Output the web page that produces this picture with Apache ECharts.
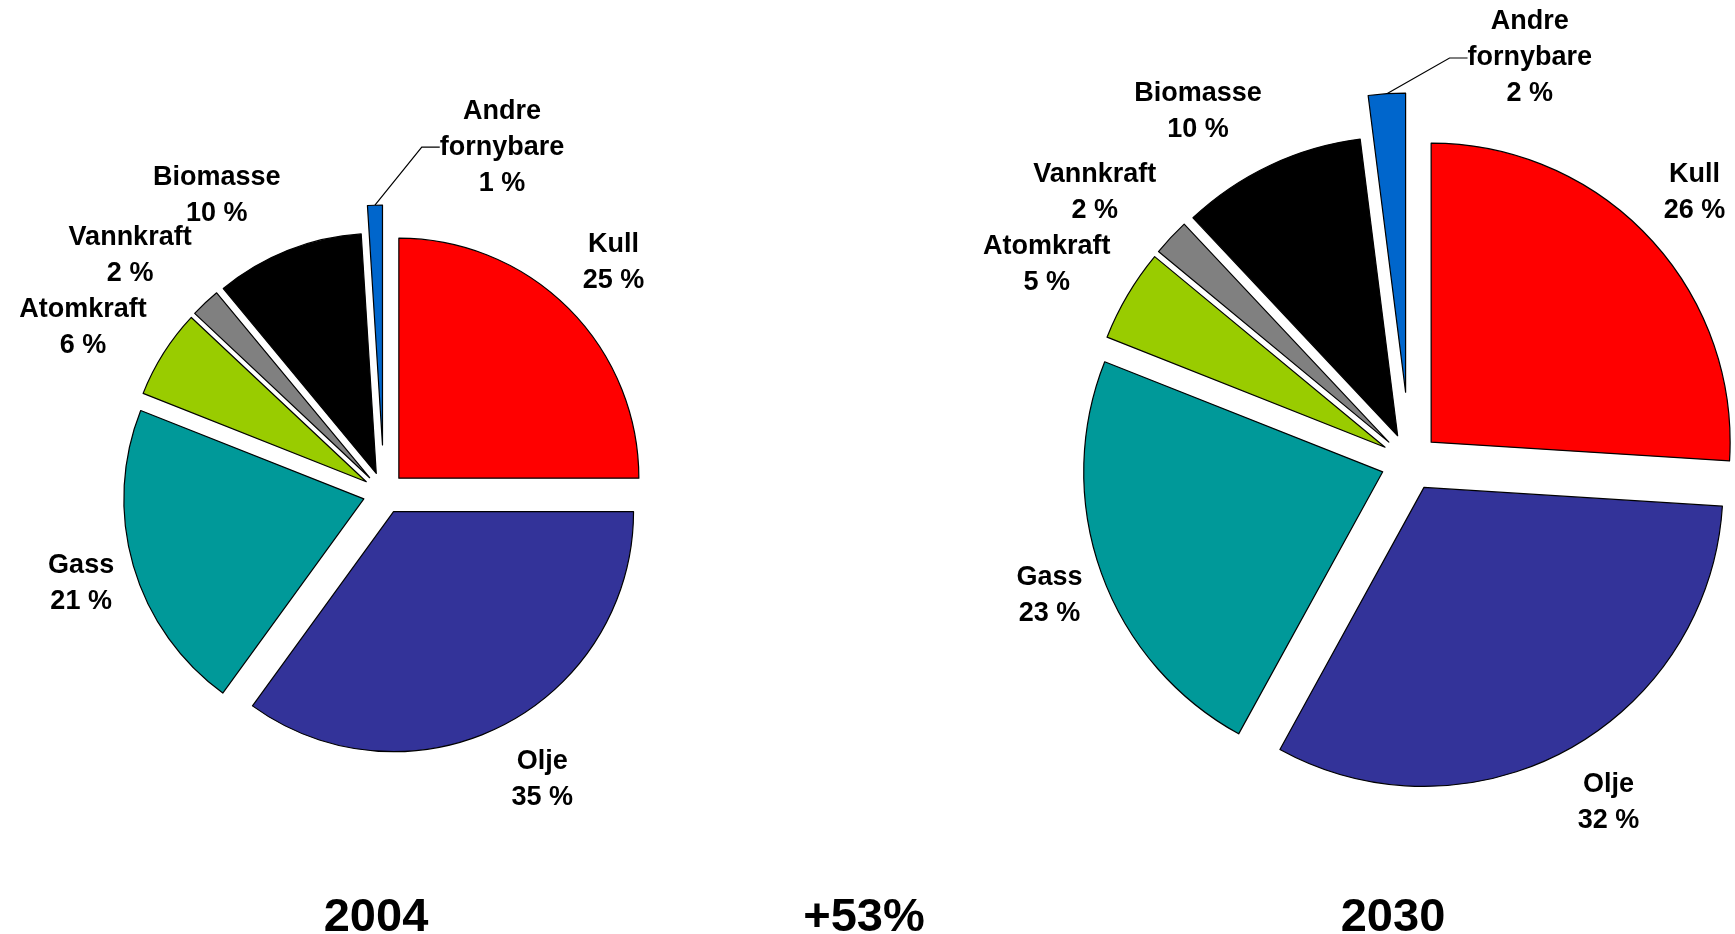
<!DOCTYPE html>
<html><head><meta charset="utf-8">
<script src="https://cdn.jsdelivr.net/npm/echarts@6/dist/echarts.min.js"></script>
<style>html,body{margin:0;padding:0;background:#fff}#c{width:1735px;height:934px}</style>
</head><body><div id="c"></div>
<script>
// ---- data ----
const categories = ['Kull', 'Olje', 'Gass', 'Atomkraft', 'Vannkraft', 'Biomasse', 'Andre fornybare'];
const labelNames = ['Kull', 'Olje', 'Gass', 'Atomkraft', 'Vannkraft', 'Biomasse', 'Andre\nfornybare'];
const share2004 = [25, 35, 21, 6, 2, 10, 1];
const share2030 = [26, 32, 23, 5, 2, 10, 2];
const yearLabels = ['2004', '2030'];
const growthLabel = '+53%';

// ---- style / layout ----
const sliceColors = ['#FF0000', '#333399', '#009999', '#99CC00', '#808080', '#000000', '#0066CC'];
const FONT = '"Liberation Sans", Arial, sans-serif';
const LABEL_SIZE = 27, LINE_H = 36, GAP = 20;
const pies = [
  { values: share2004, cx: 384, cy: 493, r: 240, off: 21, offSmall: 48, year: yearLabels[0], titleX: 376 },
  { values: share2030, cx: 1410, cy: 462, r: 299, off: 29, offSmall: 70, year: yearLabels[1], titleX: 1393 }
];

const mctx = document.createElement('canvas').getContext('2d');
mctx.font = 'bold ' + LABEL_SIZE + 'px ' + FONT;
function labelText(i, v) { return labelNames[i] + '\n' + v + ' %'; }
function measure(t) {
  const lines = t.split('\n');
  return { w: Math.max(...lines.map(l => mctx.measureText(l).width)), h: lines.length * LINE_H };
}

// geometry of each slice (angles from the data)
function sliceGeom(p) {
  const total = p.values.reduce((a, b) => a + b, 0);
  const last = p.values.length - 1;
  let cum = 0;
  return p.values.map((v, i) => {
    const start = 90 - cum / total * 360;
    const span = v / total * 360;
    cum += v;
    const mid = (start - span / 2) * Math.PI / 180;
    const off = i === last ? p.offSmall : p.off;
    return { v, total, start, ux: Math.cos(mid), uy: -Math.sin(mid), off };
  });
}

// "outside end" placement: the label box touches an anchor just outside the slice
function layoutLabels(p, geom) {
  const last = p.values.length - 1;
  const out = geom.map((g, i) => {
    const m = measure(labelText(i, g.v));
    const R = p.r + g.off;
    if (i === last) {
      const px = p.cx + R * g.ux, py = p.cy + R * g.uy;
      return { x: px + 0.27 * p.r + m.w / 2, y: Math.max(py - 58, m.h / 2 + 4), w: m.w, h: m.h, side: 0 };
    }
    const ax = p.cx + (R + GAP) * g.ux, ay = p.cy + (R + GAP) * g.uy;
    const fx = g.ux < 0 ? -1 : 1;
    const fy = Math.max(-1, Math.min(1, g.uy * 1.25));
    return { x: ax + fx * m.w / 2, y: ay + fy * m.h / 2, w: m.w, h: m.h, side: fx };
  });
  // push clearly overlapping labels downwards
  [-1, 1].forEach(side => {
    const items = out.filter(o => o.side === side).sort((m, n) => m.y - n.y);
    for (let k = 1; k < items.length; k++) {
      const A = items[k - 1], B = items[k];
      const xOverlap = (A.w + B.w) / 2 - Math.abs(A.x - B.x);
      const minDy = (A.h + B.h) / 2;
      if (xOverlap > 40 && B.y - A.y < minDy) B.y = A.y + minDy;
    }
  });
  return out;
}

const series = [];
pies.forEach(p => {
  const geom = sliceGeom(p);
  const labels = layoutLabels(p, geom);
  const last = p.values.length - 1;
  geom.forEach((g, i) => {
    const L = labels[i];
    series.push({
      type: 'pie',
      center: [p.cx + g.off * g.ux, p.cy + g.off * g.uy],
      radius: p.r, startAngle: g.start, clockwise: true,
      animation: false, silent: true, avoidLabelOverlap: false, minAngle: 0,
      label: {
        position: 'outside', color: '#000', fontFamily: FONT, fontWeight: 'bold',
        fontSize: LABEL_SIZE, lineHeight: LINE_H,
        formatter: params => labelText(i, params.value)
      },
      labelLine: { length: 10, length2: 18, lineStyle: { color: '#000', width: 1.2 } },
      labelLayout: () => ({ x: L.x, y: L.y, align: 'center', verticalAlign: 'middle' }),
      emphasis: { disabled: true },
      data: [
        { name: categories[i], value: g.v,
          itemStyle: { color: sliceColors[i], borderColor: '#000', borderWidth: 1.2 },
          label: { show: true }, labelLine: { show: i === last } },
        { name: '', value: g.total - g.v,
          itemStyle: { color: 'rgba(0,0,0,0)', borderWidth: 0 },
          label: { show: false }, labelLine: { show: false } }
      ]
    });
  });
});

const titleFont = 'bold 47px ' + FONT;
const chart = echarts.init(document.getElementById('c'), null, { renderer: 'canvas' });
chart.setOption({
  backgroundColor: '#fff',
  animation: false,
  series: series,
  graphic: [
    { type: 'text', x: pies[0].titleX, y: 918, style: { text: pies[0].year, font: titleFont, fill: '#000', align: 'center', verticalAlign: 'middle' } },
    { type: 'text', x: 864, y: 918, style: { text: growthLabel, font: titleFont, fill: '#000', align: 'center', verticalAlign: 'middle' } },
    { type: 'text', x: pies[1].titleX, y: 918, style: { text: pies[1].year, font: titleFont, fill: '#000', align: 'center', verticalAlign: 'middle' } }
  ]
});
</script></body></html>
